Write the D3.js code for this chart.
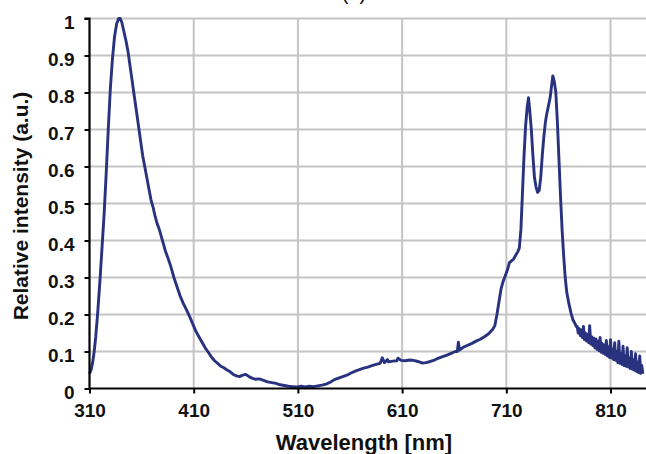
<!DOCTYPE html>
<html>
<head>
<meta charset="utf-8">
<script src="https://cdn.jsdelivr.net/npm/d3@7"></script>
<style>
  html, body { margin: 0; padding: 0; background: #fff; }
  svg { display: block; }
  text { font-family: "Liberation Sans", Arial, sans-serif; font-weight: bold; fill: #111; }
</style>
</head>
<body>
<svg id="chart" width="646" height="454"></svg>
<script>
// ---- data ----
const wavelength = [
  310,311.5,313,314.5,316,318,320,322,324,326,328,330,332,334,336,338,339.5,341,343,345,347,349,351,353,355,357,359,361,363,365,367,369,371,373,375,377,379,381,383,385,388,391,394,397,400,403,406,409,412,415,418,421,424,427,430,433,436,439,442,445,448,451,454,457,460,463,466,469,473,477,481,485,489,493,497,501,505,509,513,517,521,525,529,533,537,541,545,549,553,557,561,565,569,573,577,581,585,589,591,593,596,597,601,605,606,609,613,617,621,625,629,633,637,641,645,649,653,657,661,663,664,665,669,673,677,681,685,689,693,697,699,701,703,705,707,709,711,713,715,717,719,721,722.5,724,725.5,727,728.5,730,731.3,732.5,734,735.5,737,738.5,740,741.5,743,744.5,746,747.5,749,750.5,752,753.5,754.6,756,757.5,759,760.5,762,763.5,765,766.5,768,770,772,774,776,777,778,779,780,781,782,783,784,785,786,787,788,789,790,791,792,793,794,795,796,797,798,799,800,801,802,803,804,805,806,807,808,809,810,811,812,813,814,815,816,817,818,819,820,821,822,823,824,825,826,827,828,829,830,831,832,833,834,835,836,837,838,839,840,841
];
const intensity = [
  0.04,0.05,0.07,0.10,0.14,0.21,0.29,0.38,0.47,0.58,0.70,0.81,0.89,0.95,0.985,1.0,1.0,0.99,0.965,0.94,0.91,0.87,0.83,0.79,0.75,0.71,0.67,0.63,0.60,0.57,0.54,0.51,0.49,0.465,0.445,0.43,0.41,0.39,0.37,0.355,0.33,0.30,0.275,0.25,0.23,0.213,0.195,0.175,0.155,0.14,0.125,0.11,0.098,0.085,0.075,0.068,0.06,0.056,0.05,0.045,0.038,0.034,0.032,0.036,0.038,0.032,0.028,0.025,0.026,0.022,0.018,0.016,0.014,0.010,0.008,0.006,0.005,0.004,0.006,0.004,0.006,0.005,0.007,0.009,0.012,0.017,0.024,0.028,0.032,0.036,0.042,0.047,0.051,0.055,0.058,0.062,0.065,0.068,0.083,0.070,0.078,0.072,0.074,0.075,0.082,0.076,0.075,0.077,0.076,0.073,0.069,0.070,0.073,0.077,0.082,0.086,0.090,0.095,0.100,0.100,0.125,0.104,0.112,0.117,0.122,0.128,0.133,0.140,0.148,0.160,0.170,0.20,0.235,0.27,0.29,0.305,0.32,0.34,0.345,0.35,0.36,0.37,0.38,0.43,0.53,0.63,0.71,0.76,0.786,0.75,0.70,0.63,0.57,0.545,0.53,0.535,0.57,0.63,0.68,0.72,0.745,0.765,0.785,0.82,0.845,0.83,0.80,0.72,0.62,0.52,0.43,0.36,0.30,0.26,0.23,0.205,0.185,0.175,0.168,
  0.168,0.150,0.162,0.143,0.158,0.138,0.168,0.132,0.150,0.128,0.146,0.124,0.170,0.120,0.140,0.116,0.136,0.110,0.134,0.106,0.128,0.102,0.138,0.098,0.122,0.095,0.118,0.092,0.130,0.088,0.112,0.084,0.132,0.082,0.106,0.078,0.124,0.076,0.100,0.070,0.128,0.068,0.094,0.065,0.114,0.062,0.088,0.060,0.110,0.058,0.082,0.054,0.100,0.052,0.078,0.049,0.094,0.046,0.072,0.043,0.088,0.041,0.062,0.040
];
const xTicks = [310, 410, 510, 610, 710, 810];
const yTicks = [0, 0.1, 0.2, 0.3, 0.4, 0.5, 0.6, 0.7, 0.8, 0.9, 1];
const yTickLabels = ["0", "0.1", "0.2", "0.3", "0.4", "0.5", "0.6", "0.7", "0.8", "0.9", "1"];
const xTitle = "Wavelength [nm]";
const yTitle = "Relative intensity (a.u.)";
const panelTitle = "(a)";

// ---- layout ----
const svg = d3.select("#chart");
const mLeft = 89.5, mRight = 647, mTop = 18.5, mBottom = 388.5;
const x = d3.scaleLinear().domain([310, 845]).range([mLeft, mRight]);
const y = d3.scaleLinear().domain([0, 1]).range([mBottom, mTop]);

// grid
const grid = svg.append("g");
grid.selectAll("line.h").data(yTicks.filter(d => d > 0)).join("line")
  .attr("x1", mLeft).attr("x2", 646).attr("y1", d => y(d)).attr("y2", d => y(d))
  .attr("stroke", "#c4c4c4").attr("stroke-width", 2);
grid.selectAll("line.v").data(xTicks.filter(d => d > 310)).join("line")
  .attr("x1", d => x(d)).attr("x2", d => x(d)).attr("y1", mTop).attr("y2", mBottom)
  .attr("stroke", "#c4c4c4").attr("stroke-width", 2);

// curve
const pts = wavelength.map((w, i) => [w, intensity[i]]);
svg.append("path").datum(pts)
  .attr("fill", "none").attr("stroke", "#28327f").attr("stroke-width", 2.9)
  .attr("stroke-linejoin", "round")
  .attr("d", d3.line().x(d => x(d[0])).y(d => y(d[1])));

// axes
const yAxis = d3.axisLeft(y).tickValues(yTicks).tickFormat((d, i) => yTickLabels[i]).tickSize(5).tickPadding(10);
const gy = svg.append("g").attr("transform", `translate(${mLeft},0)`).call(yAxis);
gy.select(".domain").attr("stroke", "#000").attr("stroke-width", 2.2).attr("d", `M-5,${mTop}H0V${mBottom}`);
gy.selectAll(".tick line").attr("stroke", "#000").attr("stroke-width", 2);
gy.selectAll(".tick text").style("font-size", "19px").style("font-family", "Liberation Sans, Arial, sans-serif")
  .style("font-weight", "bold").attr("fill", "#111").attr("dy", "0.52em");

const xAxis = d3.axisBottom(x).tickValues(xTicks).tickFormat(d3.format("d")).tickSize(5).tickPadding(10);
const gx = svg.append("g").attr("transform", `translate(0,${mBottom})`).call(xAxis);
gx.select(".domain").attr("stroke", "#000").attr("stroke-width", 2.2).attr("d", `M${mLeft},0H646`);
gx.selectAll(".tick line").attr("stroke", "#000").attr("stroke-width", 2);
gx.selectAll(".tick text").style("font-size", "19px").style("font-family", "Liberation Sans, Arial, sans-serif")
  .style("font-weight", "bold").attr("fill", "#111");

// titles
svg.append("text").attr("x", 364).attr("y", 450).attr("text-anchor", "middle")
  .style("font-size", "22px").text(xTitle);
svg.append("text").attr("transform", "translate(28,206) rotate(-90)").attr("text-anchor", "middle")
  .style("font-size", "21px").text(yTitle);
svg.append("text").attr("x", 354).attr("y", 0).attr("text-anchor", "middle")
  .style("font-size", "20px").style("font-weight", "normal").text(panelTitle);
</script>
</body>
</html>
